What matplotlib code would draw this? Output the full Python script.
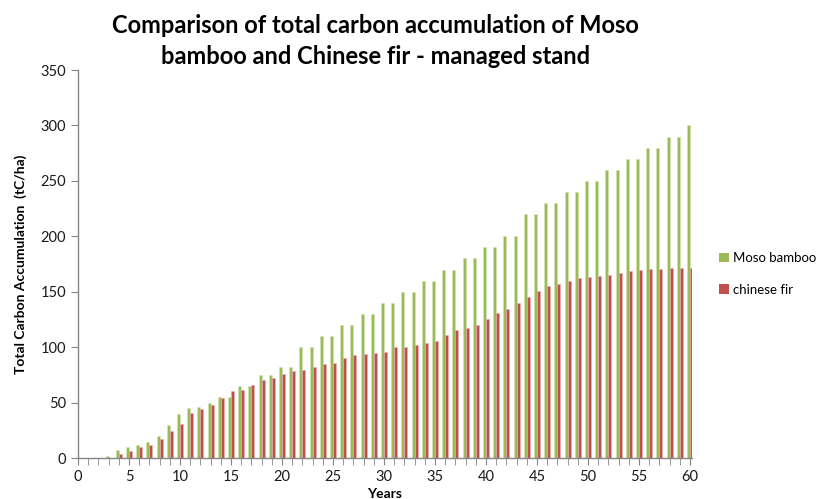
import numpy as np
import matplotlib
matplotlib.use("Agg")
from matplotlib import pyplot
from matplotlib.patches import Patch

years = list(range(0, 61))
moso_bamboo = [
    0, 0, 0, 2, 7, 10, 12, 14, 20, 30,
    40, 45, 46, 50, 55, 55, 65, 65, 75, 75,
    82, 82, 100, 100, 110, 110, 120, 120, 130, 130,
    140, 140, 150, 150, 160, 160, 170, 170, 180, 180,
    190, 190, 200, 200, 220, 220, 230, 230, 240, 240,
    250, 250, 260, 260, 270, 270, 280, 280, 290, 290,
    300,
]
chinese_fir = [
    0, 0, 0, 0, 3.6, 6.6, 10, 12, 17, 24.6,
    31, 40.5, 44.5, 48, 54, 60.7, 61.6, 65.8, 70.3, 72.4,
    75.4, 78.4, 79.6, 81.7, 85, 86, 90.4, 92.5, 93.4, 94.6,
    95.5, 99.8, 100, 101.8, 104, 105.2, 110.6, 115.7, 116.9, 119.9,
    125.3, 130.5, 134.6, 140, 145.1, 150.5, 155, 156.8, 160.1, 162.2,
    163.1, 164.3, 165.5, 166.5, 168.5, 169.4, 170.6, 170.6, 171.5, 171.5,
    171.5,
]
series_names = ["Moso bamboo", "chinese fir"]
y_ticks = [0, 50, 100, 150, 200, 250, 300, 350]

GREEN = "#9BBB59"
RED = "#C0504D"
AXIS_GREY = "#868686"

pyplot.rcParams["font.family"] = ["Lato", "DejaVu Sans"]

fig = pyplot.figure(figsize=(8.25, 4.99), dpi=100)
ax = fig.add_axes([78 / 825, 41 / 499, 614 / 825, 388 / 499])

x = np.array(years)
width = 0.3
ax.bar(x - width / 2, moso_bamboo, width, color=GREEN,
       edgecolor="#d4e3b5", linewidth=0.4)
ax.bar(x + width / 2, chinese_fir, width, color=RED,
       edgecolor="#e6b0ae", linewidth=0.4)

ax.set_xlim(0, 60.2)
ax.set_ylim(0, 350)
ax.set_yticks(y_ticks)
ax.set_xticks(range(0, 61, 5))
ax.set_xticks(years, minor=True)

for side in ["top", "right"]:
    ax.spines[side].set_visible(False)
for side in ["left", "bottom"]:
    ax.spines[side].set_color(AXIS_GREY)
    ax.spines[side].set_linewidth(1.0)

ax.tick_params(axis="both", which="both", color=AXIS_GREY, labelsize=10.5,
               labelcolor="#1a1a1a", direction="out")
ax.tick_params(axis="x", which="both", length=5)
ax.tick_params(axis="y", which="major", length=5)

ax.set_ylabel("Total Carbon Accumulation  (tC/ha)", fontsize=10,
              fontweight="bold", labelpad=10)
ax.set_xlabel("Years", fontsize=10, fontweight="bold", labelpad=3)

fig.text(0.455, 0.972,
         "Comparison of total carbon accumulation of Moso\n"
         "bamboo and Chinese fir - managed stand",
         ha="center", va="top", fontsize=17, fontweight="bold",
         linespacing=1.4)

handles = [Patch(facecolor=GREEN), Patch(facecolor=RED)]
fig.legend(handles, series_names, loc="center left",
           bbox_to_anchor=(715 / 825, 1 - 274 / 499), frameon=False,
           fontsize=9.5, handlelength=0.75, handleheight=0.75,
           handletextpad=0.3, labelspacing=1.5, borderaxespad=0,
           borderpad=0.3)

fig.savefig("out.png", dpi=100)
